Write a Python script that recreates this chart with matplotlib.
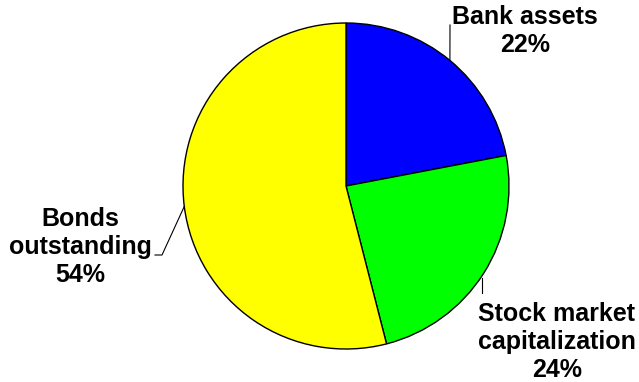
import numpy as np
import matplotlib.pyplot as plt

# Composition of financial assets
labels = ["Bank assets", "Stock market\ncapitalization", "Bonds\noutstanding"]
shares = [22, 24, 54]
colors = ["#0000FF", "#00FF00", "#FFFF00"]

W, H = 639, 382
fig = plt.figure(figsize=(W / 100, H / 100), dpi=100)
ax = fig.add_axes([0, 0, 1, 1])
ax.set_xlim(0, W)
ax.set_ylim(0, H)
ax.set_aspect("equal")
ax.axis("off")

cx, cy, r = 346, H - 186, 163
wedges, _ = ax.pie(shares, colors=colors, startangle=90, counterclock=False,
                   center=(cx, cy), radius=r, frame=True,
                   wedgeprops=dict(edgecolor="black", linewidth=1.0))
ax.set_xlim(0, W)
ax.set_ylim(0, H)
ax.axis("off")

font = dict(family=["Liberation Sans", "DejaVu Sans"], fontweight="bold",
            fontsize=18, ha="center", va="center", multialignment="center",
            linespacing=1.2)

# label block centres and leader line bends (pixels, y measured down)
text_pos = [(525, 31), (557, 342), (80, 247)]
leaders = [[(450, 25)], [(482, 293)], [(162, 255), (155, 255)]]

for w, lab, val, (tx, ty), bends in zip(wedges, labels, shares, text_pos, leaders):
    mid = np.deg2rad((w.theta1 + w.theta2) / 2)
    ex, ey = cx + r * np.cos(mid), cy + r * np.sin(mid)
    if lab.startswith("Stock"):
        ex, ey = bends[0][0], H - 278
    xs = [ex] + [b[0] for b in bends]
    ys = [ey] + [H - b[1] for b in bends]
    ax.plot(xs, ys, color="black", linewidth=0.8)
    ax.text(tx, H - ty, f"{lab}\n{val}%", **font)

fig.savefig("out.png", dpi=100)
plt.close(fig)
